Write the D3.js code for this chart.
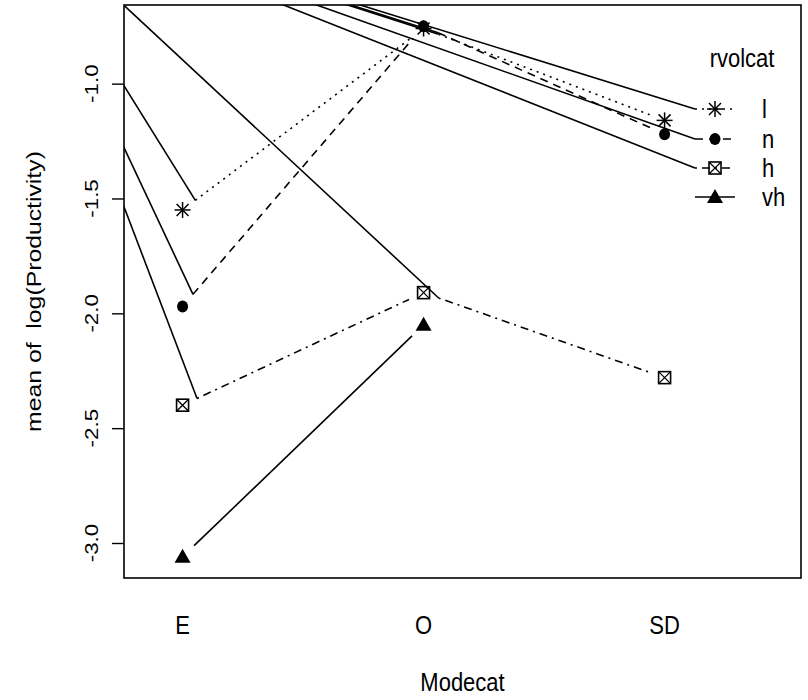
<!DOCTYPE html>
<html>
<head>
<meta charset="utf-8">
<script src="https://cdn.jsdelivr.net/npm/d3@7"></script>
<style>
  body { margin: 0; background: #fff; }
  text { font-family: "Liberation Sans", Arial, sans-serif; fill: #000; }
</style>
</head>
<body>
<svg id="chart" width="808" height="700"></svg>
<script>
// ---- data ----
const categories = ["E", "O", "SD"];
const seriesNames = ["l", "n", "h", "vh"];
const valuesL  = [-1.55, -0.76, -1.16];
const valuesN  = [-1.97, -0.75, -1.22];
const valuesH  = [-2.40, -1.91, -2.28];
const valuesVH = [-3.06, -2.05, null];
const yTicks = [-3.0, -2.5, -2.0, -1.5, -1.0];
const legendTitle = "rvolcat";
const xTitle = "Modecat";
const yTitle = "mean of  log(Productivity)";
// stray polyline origin (data units) that dashed segments are joined from
const strokeOrigin = { x: 0.263, y: -0.177 };

// ---- layout ----
const W = 808, H = 700;
const plot = { left: 124, right: 801, top: 5, bottom: 578 };
const TEXT_STRETCH = 1.18;   // glyphs are drawn taller than wide
const svg = d3.select("#chart");

const allVals = [...valuesL, ...valuesN, ...valuesH, ...valuesVH].filter(v => v != null);
const [vmin, vmax] = d3.extent(allVals);
const pad = (vmax - vmin) * 0.04;

const x = d3.scaleLinear().domain([0.757, 3.566]).range([plot.left, plot.right]);
const y = d3.scaleLinear().domain([vmin - pad, vmax + pad]).range([plot.bottom, plot.top]);

const series = [
  { name: "l",  values: valuesL,  dash: "2,5",       pch: "star" },
  { name: "n",  values: valuesN,  dash: "8,6",       pch: "dot" },
  { name: "h",  values: valuesH,  dash: "2,5,8,5",   pch: "boxx" },
  { name: "vh", values: valuesVH, dash: null,        pch: "tri" }
];

const LW = 1.6;
const GAP = 16;

svg.append("rect").attr("width", W).attr("height", H).attr("fill", "#fff");

svg.append("defs").append("clipPath").attr("id", "plotClip")
  .append("rect")
  .attr("x", plot.left).attr("y", plot.top)
  .attr("width", plot.right - plot.left).attr("height", plot.bottom - plot.top);

const gPlot = svg.append("g").attr("clip-path", "url(#plotClip)");
const origin = [x(strokeOrigin.x), y(strokeOrigin.y)];

// text helper: positioned at (tx, ty), stretched vertically, optional rotation
function label(parent, tx, ty, str, size, anchor, rotate) {
  const g = parent.append("g")
    .attr("transform", `translate(${tx},${ty}) scale(1,${TEXT_STRETCH})${rotate ? " rotate(-90)" : ""}`);
  g.append("text").attr("dy", "0.35em").attr("text-anchor", anchor)
    .style("font-size", size + "px").style("white-space", "pre").text(str);
  return g;
}

function drawSymbol(g, type, cx, cy) {
  if (type === "star") {
    const a = 8, b = 6;
    const segs = [[-a,0,a,0],[0,-a,0,a],[-b,-b,b,b],[-b,b,b,-b]];
    segs.forEach(s => g.append("line")
      .attr("x1", cx + s[0]).attr("y1", cy + s[1])
      .attr("x2", cx + s[2]).attr("y2", cy + s[3])
      .attr("stroke", "#000").attr("stroke-width", 1.5));
  } else if (type === "dot") {
    g.append("ellipse").attr("cx", cx).attr("cy", cy).attr("rx", 5.5).attr("ry", 6).attr("fill", "#000");
  } else if (type === "boxx") {
    const s = 6;
    g.append("rect").attr("x", cx - s).attr("y", cy - s).attr("width", 2 * s).attr("height", 2 * s)
      .attr("fill", "none").attr("stroke", "#000").attr("stroke-width", 1.6);
    g.append("path").attr("d", `M${cx - s},${cy - s}L${cx + s},${cy + s}M${cx - s},${cy + s}L${cx + s},${cy - s}`)
      .attr("stroke", "#000").attr("stroke-width", 1.3);
  } else if (type === "tri") {
    g.append("path").attr("d", `M${cx},${cy - 8}L${cx + 8},${cy + 6}L${cx - 8},${cy + 6}Z`).attr("fill", "#000");
  }
}

// series lines with gaps around the points
series.forEach(s => {
  for (let i = 0; i < s.values.length - 1; i++) {
    const v0 = s.values[i], v1 = s.values[i + 1];
    if (v0 == null || v1 == null) continue;
    const x0 = x(i + 1), y0 = y(v0), x1 = x(i + 2), y1 = y(v1);
    const len = Math.hypot(x1 - x0, y1 - y0);
    const ux = (x1 - x0) / len, uy = (y1 - y0) / len;
    const sx = x0 + ux * GAP, sy = y0 + uy * GAP;
    const ex = x1 - ux * GAP, ey = y1 - uy * GAP;
    if (s.dash) {
      gPlot.append("line")
        .attr("x1", origin[0]).attr("y1", origin[1]).attr("x2", sx).attr("y2", sy)
        .attr("stroke", "#000").attr("stroke-width", LW);
    }
    gPlot.append("line")
      .attr("x1", sx).attr("y1", sy).attr("x2", ex).attr("y2", ey)
      .attr("stroke", "#000").attr("stroke-width", LW)
      .attr("stroke-dasharray", s.dash);
  }
});

// points
series.forEach(s => {
  s.values.forEach((v, i) => {
    if (v == null) return;
    drawSymbol(gPlot, s.pch, x(i + 1), y(v));
  });
});

// legend
const legX0 = 695, legX1 = 735, legSym = 715, legText = 762;
const legRows = [109, 139, 168, 197];
label(svg, 742, 58, legendTitle, 22, "middle", false);
series.forEach((s, k) => {
  const ry = legRows[k];
  if (s.dash) {
    gPlot.append("line")
      .attr("x1", origin[0]).attr("y1", origin[1]).attr("x2", legX0).attr("y2", ry)
      .attr("stroke", "#000").attr("stroke-width", LW);
  }
  svg.append("line").attr("x1", legX0).attr("y1", ry).attr("x2", legX1).attr("y2", ry)
    .attr("stroke", "#000").attr("stroke-width", LW).attr("stroke-dasharray", s.dash);
  drawSymbol(svg, s.pch, legSym, ry);
  label(svg, legText, ry, seriesNames[k], 22, "start", false);
});

// box
svg.append("rect")
  .attr("x", plot.left).attr("y", plot.top)
  .attr("width", plot.right - plot.left).attr("height", plot.bottom - plot.top)
  .attr("fill", "none").attr("stroke", "#000").attr("stroke-width", 1.6);

// y axis: ticks from the axis generator, labels rotated and stretched
const yAxis = d3.axisLeft(y).tickValues(yTicks).tickSize(12).tickFormat(d3.format(".1f"));
const gy = svg.append("g").attr("transform", `translate(${plot.left},0)`).call(yAxis);
gy.select(".domain").remove();
gy.selectAll(".tick line").attr("stroke", "#000").attr("stroke-width", 1.4);
gy.selectAll(".tick text").remove();
yTicks.forEach(t => label(svg, 91, y(t), d3.format(".1f")(t).replace("\u2212", "-"), 19, "middle", true));

// x axis labels (no ticks)
const xAxis = d3.axisBottom(x).tickValues([1, 2, 3]).tickSize(0).tickFormat((d, i) => categories[i]);
const gx = svg.append("g").attr("transform", `translate(0,${plot.bottom})`).call(xAxis);
gx.select(".domain").remove();
gx.selectAll(".tick text").remove();
categories.forEach((c, i) => label(svg, x(i + 1), 625, c, 22, "middle", false));

// axis titles
label(svg, (plot.left + plot.right) / 2, 682, xTitle, 22, "middle", false);
label(svg, 34, (plot.top + plot.bottom) / 2, yTitle, 21, "middle", true);
</script>
</body>
</html>
